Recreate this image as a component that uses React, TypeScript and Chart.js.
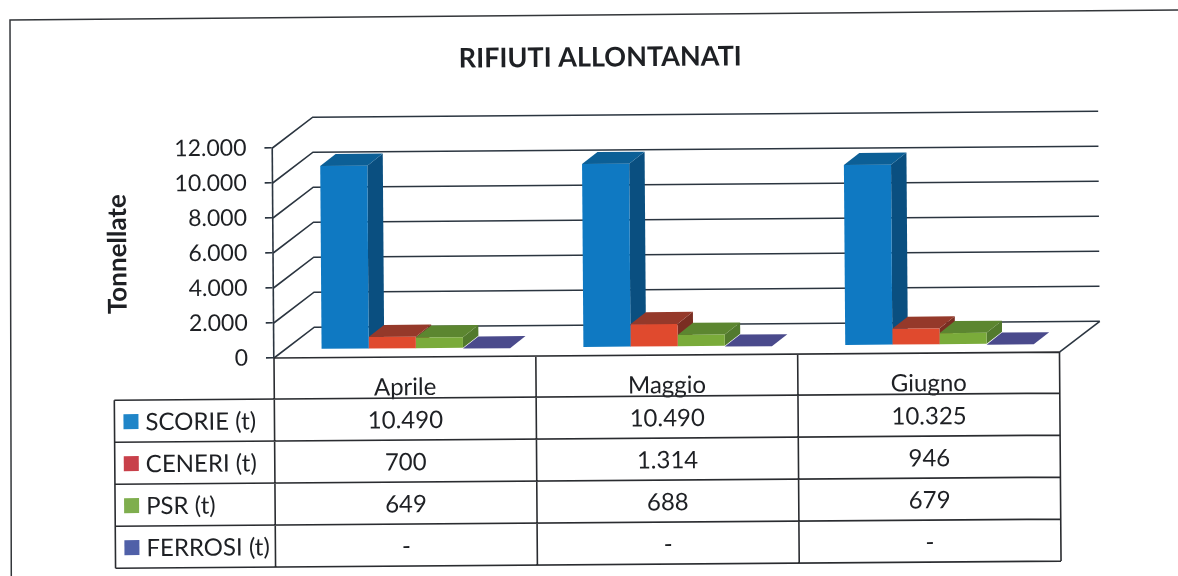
import React, { useEffect, useRef } from "react";
import { Chart, registerables } from "chart.js";

Chart.register(...registerables);

const categories = ["Aprile", "Maggio", "Giugno"];
const seriesNames = ["SCORIE (t)", "CENERI (t)", "PSR (t)", "FERROSI (t)"];
const scorie = [10490, 10490, 10325];
const ceneri = [700, 1314, 946];
const psr = [649, 688, 679];
const ferrosi = [0, 0, 0];
const yTicks = [0, 2000, 4000, 6000, 8000, 10000, 12000];

const fronts = ["#0F79C2", "#E04A2E", "#7AAB3A", "#4A4A8C"];
const tops = ["#0C5F96", "#95392A", "#5C8630", "#4A4A8C"];
const sides = ["#0A4F80", "#7A2E22", "#527A2D", "#3E3E78"];
const swatches = ["#1F85C8", "#C8404A", "#7FAE4E", "#5060A8"];
const ink = "#1e2024";
const rule = "#2b3540";
const FONT = "Lato, Carlito, 'Open Sans', sans-serif";

const fmt = (v: number) => String(v).replace(/\B(?=(\d{3})+(?!\d))/g, ".");

const TILT = -0.0075;
const WALL_X = 40.5;
const WALL_Y = 30.5;
const BAR_X = 11;
const BAR_Y = 8;
const DEPTH_X = 15.5;
const DEPTH_Y = 12;
const ROWS = [399, 441, 483, 525, 567];
const TABLE_LEFT = 114;

function poly(ctx: CanvasRenderingContext2D, pts: number[][], fill: string) {
  ctx.fillStyle = fill;
  ctx.beginPath();
  pts.forEach(([x, y], i) => (i ? ctx.lineTo(x, y) : ctx.moveTo(x, y)));
  ctx.closePath();
  ctx.fill();
}

const scene = {
  id: "scene",
  afterLayout(chart: any) {
    chart.titleBlock.left = 27;
    chart.titleBlock.right = 1178;
  },
  beforeDraw(chart: any) {
    const { ctx, chartArea } = chart;
    ctx.save();
    ctx.fillStyle = "#ffffff";
    ctx.fillRect(0, 0, chart.width, chart.height);
    ctx.strokeStyle = "#33363a";
    ctx.lineWidth = 1.5;
    ctx.beginPath();
    ctx.moveTo(11.3, 576);
    ctx.lineTo(10, 20);
    ctx.lineTo(1178, 10);
    ctx.stroke();
    ctx.translate(chartArea.left, chartArea.bottom);
    ctx.rotate(TILT);
    ctx.translate(-chartArea.left, -chartArea.bottom);
  },
  beforeDatasetsDraw(chart: any) {
    const { ctx, chartArea, scales } = chart;
    const { left, right, bottom } = chartArea;
    ctx.save();
    ctx.strokeStyle = rule;
    ctx.lineWidth = 1.6;
    yTicks.forEach((t) => {
      const y = scales.y.getPixelForValue(t);
      ctx.beginPath();
      ctx.moveTo(left, y);
      ctx.lineTo(left + WALL_X, y - WALL_Y);
      ctx.lineTo(right + WALL_X, y - WALL_Y);
      ctx.stroke();
    });
    ctx.beginPath();
    ctx.moveTo(right, bottom);
    ctx.lineTo(right + WALL_X, bottom - WALL_Y);
    ctx.stroke();
    ctx.restore();
    ctx.save();
    ctx.translate(BAR_X, -BAR_Y);
    categories.forEach((_, c) => {
      chart.data.datasets.forEach((_d: any, s: number) => {
        const bar = chart.getDatasetMeta(s).data[c];
        const xl = bar.x - bar.width / 2;
        const xr = bar.x + bar.width / 2;
        if (bar.base - bar.y > 0.5) {
          poly(ctx, [[xr, bar.y], [xr + DEPTH_X, bar.y - DEPTH_Y], [xr + DEPTH_X, bar.base - DEPTH_Y], [xr, bar.base]], sides[s]);
        }
        poly(ctx, [[xl, bar.y], [xl + DEPTH_X, bar.y - DEPTH_Y], [xr + DEPTH_X, bar.y - DEPTH_Y], [xr, bar.y]], tops[s]);
      });
    });
  },
  afterDatasetsDraw(chart: any) {
    chart.ctx.restore();
  },
  afterDraw(chart: any) {
    const { ctx, chartArea, scales } = chart;
    const { left, right, bottom } = chartArea;
    const tableValues = [scorie, ceneri, psr, ferrosi];
    ctx.strokeStyle = "#2a2c30";
    ctx.lineWidth = 1.6;
    const catW = (right - left) / categories.length;
    ctx.beginPath();
    ctx.moveTo(left, bottom);
    ctx.lineTo(right, bottom);
    ROWS.forEach((y) => {
      ctx.moveTo(TABLE_LEFT, y);
      ctx.lineTo(right, y);
    });
    ctx.moveTo(TABLE_LEFT, ROWS[0]);
    ctx.lineTo(TABLE_LEFT, ROWS[4]);
    categories.forEach((_, i) => {
      const x = scales.x.getPixelForValue(i) - catW / 2;
      ctx.moveTo(x, bottom);
      ctx.lineTo(x, ROWS[4]);
    });
    ctx.moveTo(right, bottom);
    ctx.lineTo(right, ROWS[4]);
    ctx.stroke();
    ctx.font = `24px ${FONT}`;
    ctx.textBaseline = "middle";
    ctx.fillStyle = ink;
    seriesNames.forEach((name, r) => {
      const yc = (ROWS[r] + ROWS[r + 1]) / 2;
      ctx.fillStyle = swatches[r];
      ctx.fillRect(123, yc - 7, 15, 15);
      ctx.fillStyle = ink;
      ctx.textAlign = "left";
      ctx.fillText(name, 145, yc + 1.5);
      ctx.textAlign = "center";
      categories.forEach((_, i) => {
        const v = tableValues[r][i];
        ctx.fillText(v ? fmt(v) : "-", scales.x.getPixelForValue(i), yc + 1.5);
      });
    });
    ctx.restore();
  },
};

export default function App() {
  const ref = useRef<HTMLCanvasElement>(null);
  useEffect(() => {
    document.body.style.margin = "0";
    const chart = new Chart(ref.current!, {
      type: "bar",
      plugins: [scene],
      data: {
        labels: categories,
        datasets: [scorie, ceneri, psr, ferrosi].map((data, i) => ({
          label: seriesNames[i],
          data,
          backgroundColor: fronts[i],
          borderWidth: 0,
          categoryPercentage: 0.72,
          barPercentage: 1,
          clip: false as any,
        })),
      },
      options: {
        animation: false,
        responsive: false,
        layout: { padding: { left: 0, right: 118.5, top: 0, bottom: 0 } },
        plugins: {
          legend: { display: false },
          tooltip: { enabled: false },
          title: {
            display: true,
            text: "RIFIUTI ALLONTANATI",
            color: ink,
            font: { family: FONT, size: 27, lineHeight: 1.2, weight: "bold" },
            padding: { top: 44, bottom: 71.6 },
          },
        },
        scales: {
          x: {
            afterFit: (s: any) => { s.height = 218; },
            grid: { display: false },
            border: { display: false },
            ticks: { color: ink, font: { family: FONT, size: 24 }, padding: 8, maxRotation: 0 },
          },
          y: {
            min: 0,
            max: 12000,
            afterFit: (s: any) => { s.width = 274; },
            afterBuildTicks: (s: any) => { s.ticks = yTicks.map((value) => ({ value })); },
            grid: { drawOnChartArea: false, drawTicks: true, tickLength: 8, color: rule, lineWidth: 1.6 },
            border: { display: true, color: rule, width: 1.6 },
            ticks: { color: ink, font: { family: FONT, size: 23 }, padding: 18, callback: (v: any) => fmt(Number(v)) },
            title: {
              display: true,
              text: "Tonnellate",
              color: ink,
              font: { family: FONT, size: 26, weight: "bold" },
              padding: { top: 103, bottom: 0 },
            },
          },
        },
      },
    });
    return () => chart.destroy();
  }, []);
  return <canvas ref={ref} width={1178} height={576} style={{ display: "block" }} />;
}
